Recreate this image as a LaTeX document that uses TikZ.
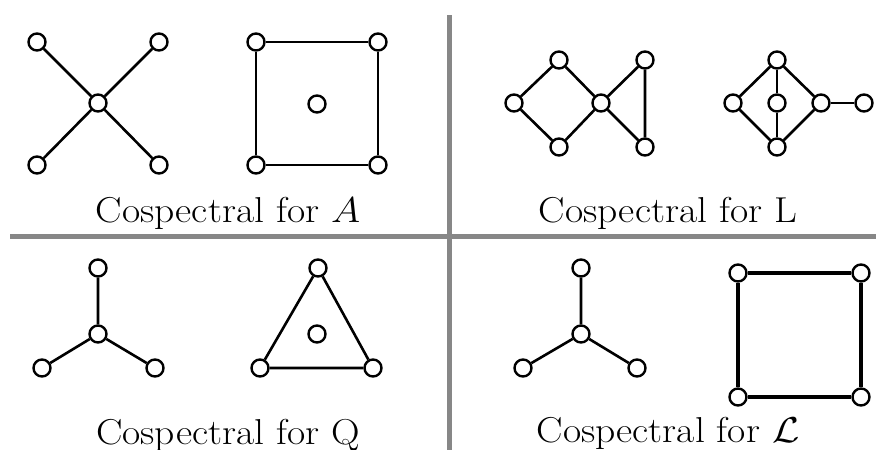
\RequirePackage{fix-cm}
\documentclass[tikz,border=0pt]{standalone}
\usepackage{amsmath}
\usepackage{graphicx}
\newcommand{\capt}[1]{\scalebox{1.1}[1]{#1}}
\begin{document}
\begin{tikzpicture}[x=1pt,y=-1pt,
  vtx/.style={circle,draw=black,fill=white,line width=2.4pt,minimum size=17pt,inner sep=0pt},
  edge/.style={line width=2.6pt,black},
  thick edge/.style={line width=3.6pt,black},
  divider/.style={line width=5pt,color=black!47},
  caption/.style={anchor=base,font=\fontsize{36}{42}\selectfont,inner sep=0pt}]
\useasboundingbox (0,0) rectangle (876,450);
% dividers
\coordinate (vt) at (449,15);
\coordinate (vb) at (449,450);
\coordinate (hl) at (10,236);
\coordinate (hr) at (876,236);
\draw[divider] (vt) -- (vb);
\draw[divider] (hl) -- (hr);

% Panel A: star K1,4
\node[vtx] (a0) at (98,103) {};
\node[vtx] (a1) at (37,42) {};
\node[vtx] (a2) at (159,42) {};
\node[vtx] (a3) at (37,165) {};
\node[vtx] (a4) at (159,165) {};
\draw[edge] (a0) -- (a1) (a0) -- (a2) (a0) -- (a3) (a0) -- (a4);
% C4 + K1
\node[vtx] (b1) at (256,42) {};
\node[vtx] (b2) at (378,42) {};
\node[vtx] (b3) at (378,165) {};
\node[vtx] (b4) at (256,165) {};
\node[vtx] (b0) at (317,104) {};
\draw[edge] (b1) -- (b2) -- (b3) -- (b4) -- (b1);
\node[caption] (capA) at (228,222) {\capt{Cospectral for $A$}};

% Panel L
\node[vtx] (c1) at (514,103) {};
\node[vtx] (c2) at (559,60) {};
\node[vtx] (c3) at (559,147) {};
\node[vtx] (c4) at (601,103) {};
\node[vtx] (c5) at (645,60) {};
\node[vtx] (c6) at (645,147) {};
\draw[edge] (c1) -- (c2) -- (c4) -- (c3) -- (c1);
\draw[edge] (c4) -- (c5) -- (c6) -- (c4);
\node[vtx] (d1) at (733,103) {};
\node[vtx] (d2) at (777,60) {};
\node[vtx] (d3) at (777,103) {};
\node[vtx] (d4) at (777,147) {};
\node[vtx] (d5) at (821,103) {};
\node[vtx] (d6) at (864,103) {};
\draw[edge] (d1) -- (d2) -- (d5) -- (d4) -- (d1);
\draw[edge] (d2) -- (d3) -- (d4);
\draw[edge] (d5) -- (d6);
\node[caption] (capL) at (668,222) {\capt{Cospectral for L}};

% Panel Q
\node[vtx] (e0) at (98,334) {};
\node[vtx] (e1) at (98,268) {};
\node[vtx] (e2) at (42,368) {};
\node[vtx] (e3) at (155,368) {};
\draw[edge] (e0) -- (e1) (e0) -- (e2) (e0) -- (e3);
\node[vtx] (f1) at (318,268) {};
\node[vtx] (f2) at (260,368) {};
\node[vtx] (f3) at (373,368) {};
\node[vtx] (f0) at (317,334) {};
\draw[edge] (f1) -- (f2) -- (f3) -- (f1);
\node[caption] (capQ) at (228,444) {\capt{Cospectral for Q}};

% Panel normalized L
\node[vtx] (g0) at (581,334) {};
\node[vtx] (g1) at (581,268) {};
\node[vtx] (g2) at (523,368) {};
\node[vtx] (g3) at (637,368) {};
\draw[edge] (g0) -- (g1) (g0) -- (g2) (g0) -- (g3);
\node[vtx] (h1) at (738,273) {};
\node[vtx] (h2) at (861,273) {};
\node[vtx] (h3) at (861,397) {};
\node[vtx] (h4) at (738,397) {};
\draw[thick edge] (h1) -- (h2) -- (h3) -- (h4) -- (h1);
\node[caption] (capN) at (668,442) {\capt{Cospectral for $\mathcal{L}$}};
\end{tikzpicture}
\end{document}
